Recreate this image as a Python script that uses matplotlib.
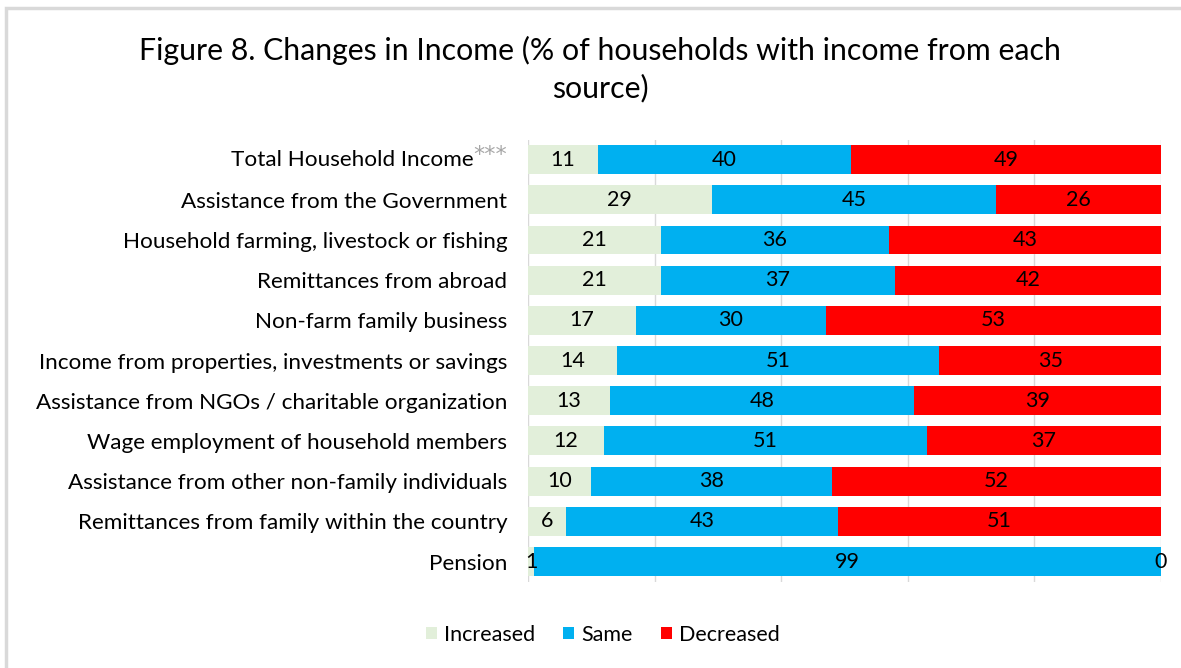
import matplotlib
matplotlib.use("Agg")
import matplotlib.pyplot as plt
from matplotlib.patches import Rectangle
import numpy as np

plt.rcParams['font.family'] = ['Lato', 'DejaVu Sans']

categories = [
    "Total Household Income",
    "Assistance from the Government",
    "Household farming, livestock or fishing",
    "Remittances from abroad",
    "Non-farm family business",
    "Income from properties, investments or savings",
    "Assistance from NGOs / charitable organization",
    "Wage employment of household members",
    "Assistance from other non-family individuals",
    "Remittances from family within the country",
    "Pension",
]
increased = [11, 29, 21, 21, 17, 14, 13, 12, 10, 6, 1]
same = [40, 45, 36, 37, 30, 51, 48, 51, 38, 43, 99]
decreased = [49, 26, 43, 42, 53, 35, 39, 37, 52, 51, 0]
series_names = ["Increased", "Same", "Decreased"]
colors = ["#e2efda", "#00b0f0", "#ff0000"]
title = "Figure 8. Changes in Income (% of households with income from each\nsource)"

fig = plt.figure(figsize=(11.81, 6.68), dpi=100)
ax = fig.add_axes([528/1181, 1-581.6/668, (1161-528)/1181, (581.6-139.5)/668])

y = np.arange(len(categories))
left = np.zeros(len(categories))
for name, vals, col in zip(series_names, [increased, same, decreased], colors):
    bars = ax.barh(y, vals, left=left, height=0.72, color=col, label=name, zorder=3)
    ax.bar_label(bars, labels=[str(v) for v in vals], label_type='center',
                 fontsize=15.5, color='black', zorder=4)
    left += np.array(vals)

ax.set_xlim(0, 100)
ax.set_ylim(len(categories) - 0.5, -0.5)
ax.set_xticks([0, 20, 40, 60, 80, 100])
ax.set_xticklabels([])
ax.tick_params(axis='x', length=0)
ax.grid(axis='x', color='#d9d9d9', linewidth=1, zorder=0)
ax.set_yticks(y)
labels = [""] + categories[1:]
ax.set_yticklabels(labels, fontsize=16.2)
ax.tick_params(axis='y', length=0, pad=15)
for s in ax.spines.values():
    s.set_visible(False)

# first label with grey asterisks
star = ax.annotate("***", xy=(0, 0), xycoords=('axes fraction', 'data'),
                   xytext=(-15, 3), textcoords='offset points', ha='right',
                   va='center', fontsize=16, color='#a6a6a6',
                   family='DejaVu Sans')
ax.annotate(categories[0], xy=(0, 0.5), xycoords=star, xytext=(0, -3),
            textcoords='offset points', ha='right', va='center', fontsize=16.2)

fig.text(0.508, 1 - 69/668, title, ha='center', va='center', fontsize=21.8,
         linespacing=1.35)

fig.legend(loc='center', bbox_to_anchor=(603/1181, 1 - 635/668), ncol=3,
           frameon=False, fontsize=15.5, handlelength=0.5, handleheight=0.5,
           handletextpad=0.35, columnspacing=1.3)

fig.patches.append(Rectangle((6/1181, -0.1), 1.2, 1 - 8/668 + 0.1,
                             transform=fig.transFigure, fill=False,
                             edgecolor='#d9d9d9', linewidth=2.5))

fig.savefig("out.png", dpi=100, facecolor='white')
